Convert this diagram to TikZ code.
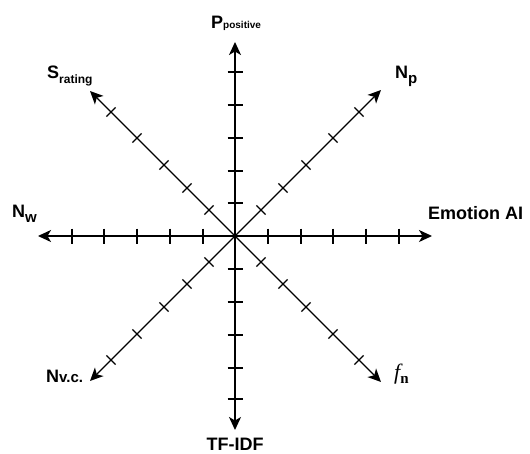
\documentclass[tikz,border=0pt]{standalone}
\usepackage{fontspec}
\setmainfont{Liberation Sans}
\newfontfamily\seriffont{Liberation Serif}
\usetikzlibrary{arrows.meta}
\begin{document}
\begin{tikzpicture}[x=1pt,y=-1pt,
  axis/.style={line width=1.4pt,-{Stealth[length=13pt,width=12pt,inset=3.5pt]}},
  tickmark/.style={line width=1.2pt},
  lbl/.style={inner sep=0pt,anchor=base west,font=\bfseries\fontsize{18}{20}\selectfont}]
\useasboundingbox[fill=white] (0,0) rectangle (530,453);
% centre and axis ends
\coordinate (O) at (235,236);
\coordinate (T) at (235,42);
\coordinate (B) at (235,430);
\coordinate (L) at (38,236);
\coordinate (R) at (432,236);
\coordinate (NE) at (381,90);
\coordinate (NW) at (90,91);
\coordinate (SW) at (90,381);
\coordinate (SE) at (381,382);
% axes
\foreach \e in {T,B,L,R,NE,NW,SW,SE} \draw[axis] (O) -- (\e);
% ticks on horizontal axis
\foreach \x in {72,104,137,170,203,268,301,333,366,399}
  \draw[tickmark] (\x,228.5) -- (\x,243.5);
% ticks on vertical axis
\foreach \y in {72,105,138,171,203,269,302,335,368,399}
  \draw[tickmark] (227.5,\y) -- (242.5,\y);
% ticks on diagonals
\foreach \d in {26,48,71,98,124} {
  \draw[tickmark] ({235+\d-4.6},{236-\d-4.6}) -- ({235+\d+4.6},{236-\d+4.6});
  \draw[tickmark] ({235-\d-4.6},{236+\d-4.6}) -- ({235-\d+4.6},{236+\d+4.6});
  \draw[tickmark] ({235-\d-4.6},{236-\d+4.6}) -- ({235-\d+4.6},{236-\d-4.6});
  \draw[tickmark] ({235+\d-4.6},{236+\d+4.6}) -- ({235+\d+4.6},{236+\d-4.6});
}
% labels
\node[lbl] (lp) at (211,28) {P\fontsize{10}{10}\selectfont positive};
\node[lbl] (ls) at (47,78) {S\raisebox{-5pt}{\fontsize{12}{12}\selectfont rating}};
\node[lbl] (lnp) at (395,78) {N\raisebox{-5pt}{\fontsize{15}{15}\selectfont p}};
\node[lbl] (lnw) at (12,217) {N\raisebox{-5pt}{\fontsize{15}{15}\selectfont w}};
\node[lbl] (le) at (428,219) {Emotion AI};
\node[lbl] (lnvc) at (46,382) {N\fontsize{15}{15}\selectfont v.c.};
\node[lbl] (lf) at (394,379) {{\seriffont\mdseries\itshape\fontsize{22}{22}\selectfont f}\raisebox{-4pt}{\seriffont\bfseries\fontsize{15}{15}\selectfont n}};
\node[lbl,anchor=base] (lt) at (235,450) {TF-IDF};
\end{tikzpicture}
\end{document}
